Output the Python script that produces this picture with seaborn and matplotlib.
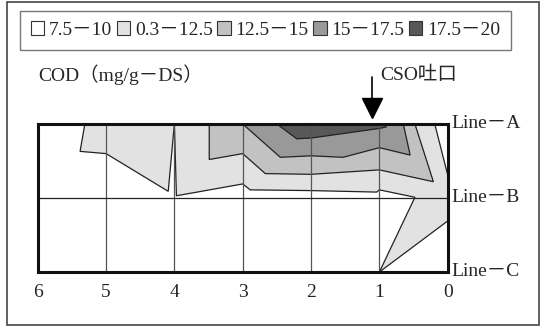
import matplotlib
matplotlib.use("Agg")
import matplotlib.pyplot as plt
import seaborn as sns
from matplotlib.patches import Patch, Rectangle

# band labels and colours (as printed in the legend)
band_labels = ["7.5－10", "0.3－12.5", "12.5－15", "15－17.5", "17.5－20"]
band_colors = ["#ffffff", "#e2e2e2", "#c2c2c2", "#999999", "#585858"]

# distance from CSO outfall (x) and survey line position (y: Line-A=2, B=1, C=0)
# outline of each band (value >= lower bound)
band10_x = [5.31, 5.38, 5.00, 4.09, 4.00, 3.97, 3.00, 2.89, 2.00, 1.04, 1.00, 0.48, 1.00, 0.00, 0.00, 0.19]
band10_y = [2.00, 1.63, 1.60, 1.09, 2.00, 1.03, 1.19, 1.11, 1.10, 1.08, 1.11, 1.01, 0.00, 0.69, 1.31, 2.00]

band125_x = [3.49, 3.49, 3.00, 2.67, 2.00, 1.00, 0.21, 0.48]
band125_y = [2.00, 1.52, 1.60, 1.33, 1.32, 1.38, 1.22, 2.00]

band15_x = [3.00, 2.45, 2.00, 1.53, 1.00, 0.55, 0.65]
band15_y = [2.00, 1.55, 1.57, 1.55, 1.68, 1.58, 2.00]

band175_x = [2.50, 2.21, 2.00, 1.00, 0.90, 0.90]
band175_y = [2.00, 1.80, 1.81, 1.94, 1.96, 2.00]

x_ticks = [6, 5, 4, 3, 2, 1, 0]
line_names = ["Line－A", "Line－B", "Line－C"]
line_pos = [2, 1, 0]

# CSO outfall position along the x axis
cso_x = 1.11

sns.set_style("white")
plt.rcParams['font.family'] = ['Liberation Serif', 'Noto Sans CJK JP']

fig = plt.figure(figsize=(5.41, 3.27), dpi=100)
ax = fig.add_axes([0.0697, 0.1682, 0.7579, 0.4526])

bands = [(band10_x, band10_y), (band125_x, band125_y),
         (band15_x, band15_y), (band175_x, band175_y)]
for (bx, by), col in zip(bands, band_colors[1:]):
    ax.fill(bx, by, facecolor=col, edgecolor="#222222", linewidth=0.9, zorder=2)

ax.set_xlim(6, 0)
ax.set_ylim(0, 2)

# grid: every km vertically, Line-B horizontally
for xv in x_ticks[1:-1]:
    ax.axvline(xv, color="#555555", linewidth=0.9, zorder=3)
ax.axhline(1, color="#222222", linewidth=0.9, zorder=3)

for s in ax.spines.values():
    s.set_linewidth(2.2)
    s.set_color("#111111")
    s.set_zorder(4)

ax.set_xticks(x_ticks)
ax.set_xticklabels([str(t) for t in x_ticks], fontsize=14)
ax.set_yticks([])
ax.tick_params(axis="x", length=0, pad=9)

for name, yp in zip(line_names, line_pos):
    ax.text(1.01, yp, name, transform=ax.get_yaxis_transform(),
            ha="left", va="center", fontsize=14)

# titles and outfall arrow (stem + triangular head above Line-A)
fig.text(38 / 541, 1 - 75 / 327, "COD（mg/g－DS）", ha="left", va="center", fontsize=14)
fig.text(380 / 541, 1 - 75 / 327, "CSO吐口", ha="left", va="center", fontsize=14)
ax.plot([cso_x, cso_x], [2.63, 2.2], color="black", linewidth=1.2, clip_on=False, zorder=5)
ax.plot([cso_x], [2.215], marker="v", markersize=14.5, color="black", clip_on=False, zorder=5)

# legend
handles = [Patch(facecolor=c, edgecolor="#333333", linewidth=0.8) for c in band_colors]
leg = fig.legend(handles, band_labels, loc="center", bbox_to_anchor=(265.5 / 541, 1 - 30 / 327),
                 ncol=5, fontsize=14, frameon=True, fancybox=False, edgecolor="#555555",
                 handlelength=0.7, handleheight=0.7, handletextpad=0.25, columnspacing=0.22,
                 borderpad=0.55, borderaxespad=0)
leg.get_frame().set_linewidth(1.0)

# outer frame of the figure
fig.patches.append(Rectangle((7 / 541, 2 / 327), 532 / 541, 323 / 327, transform=fig.transFigure,
                             fill=False, edgecolor="#444444", linewidth=1.2))

fig.savefig("out.png", dpi=100)
